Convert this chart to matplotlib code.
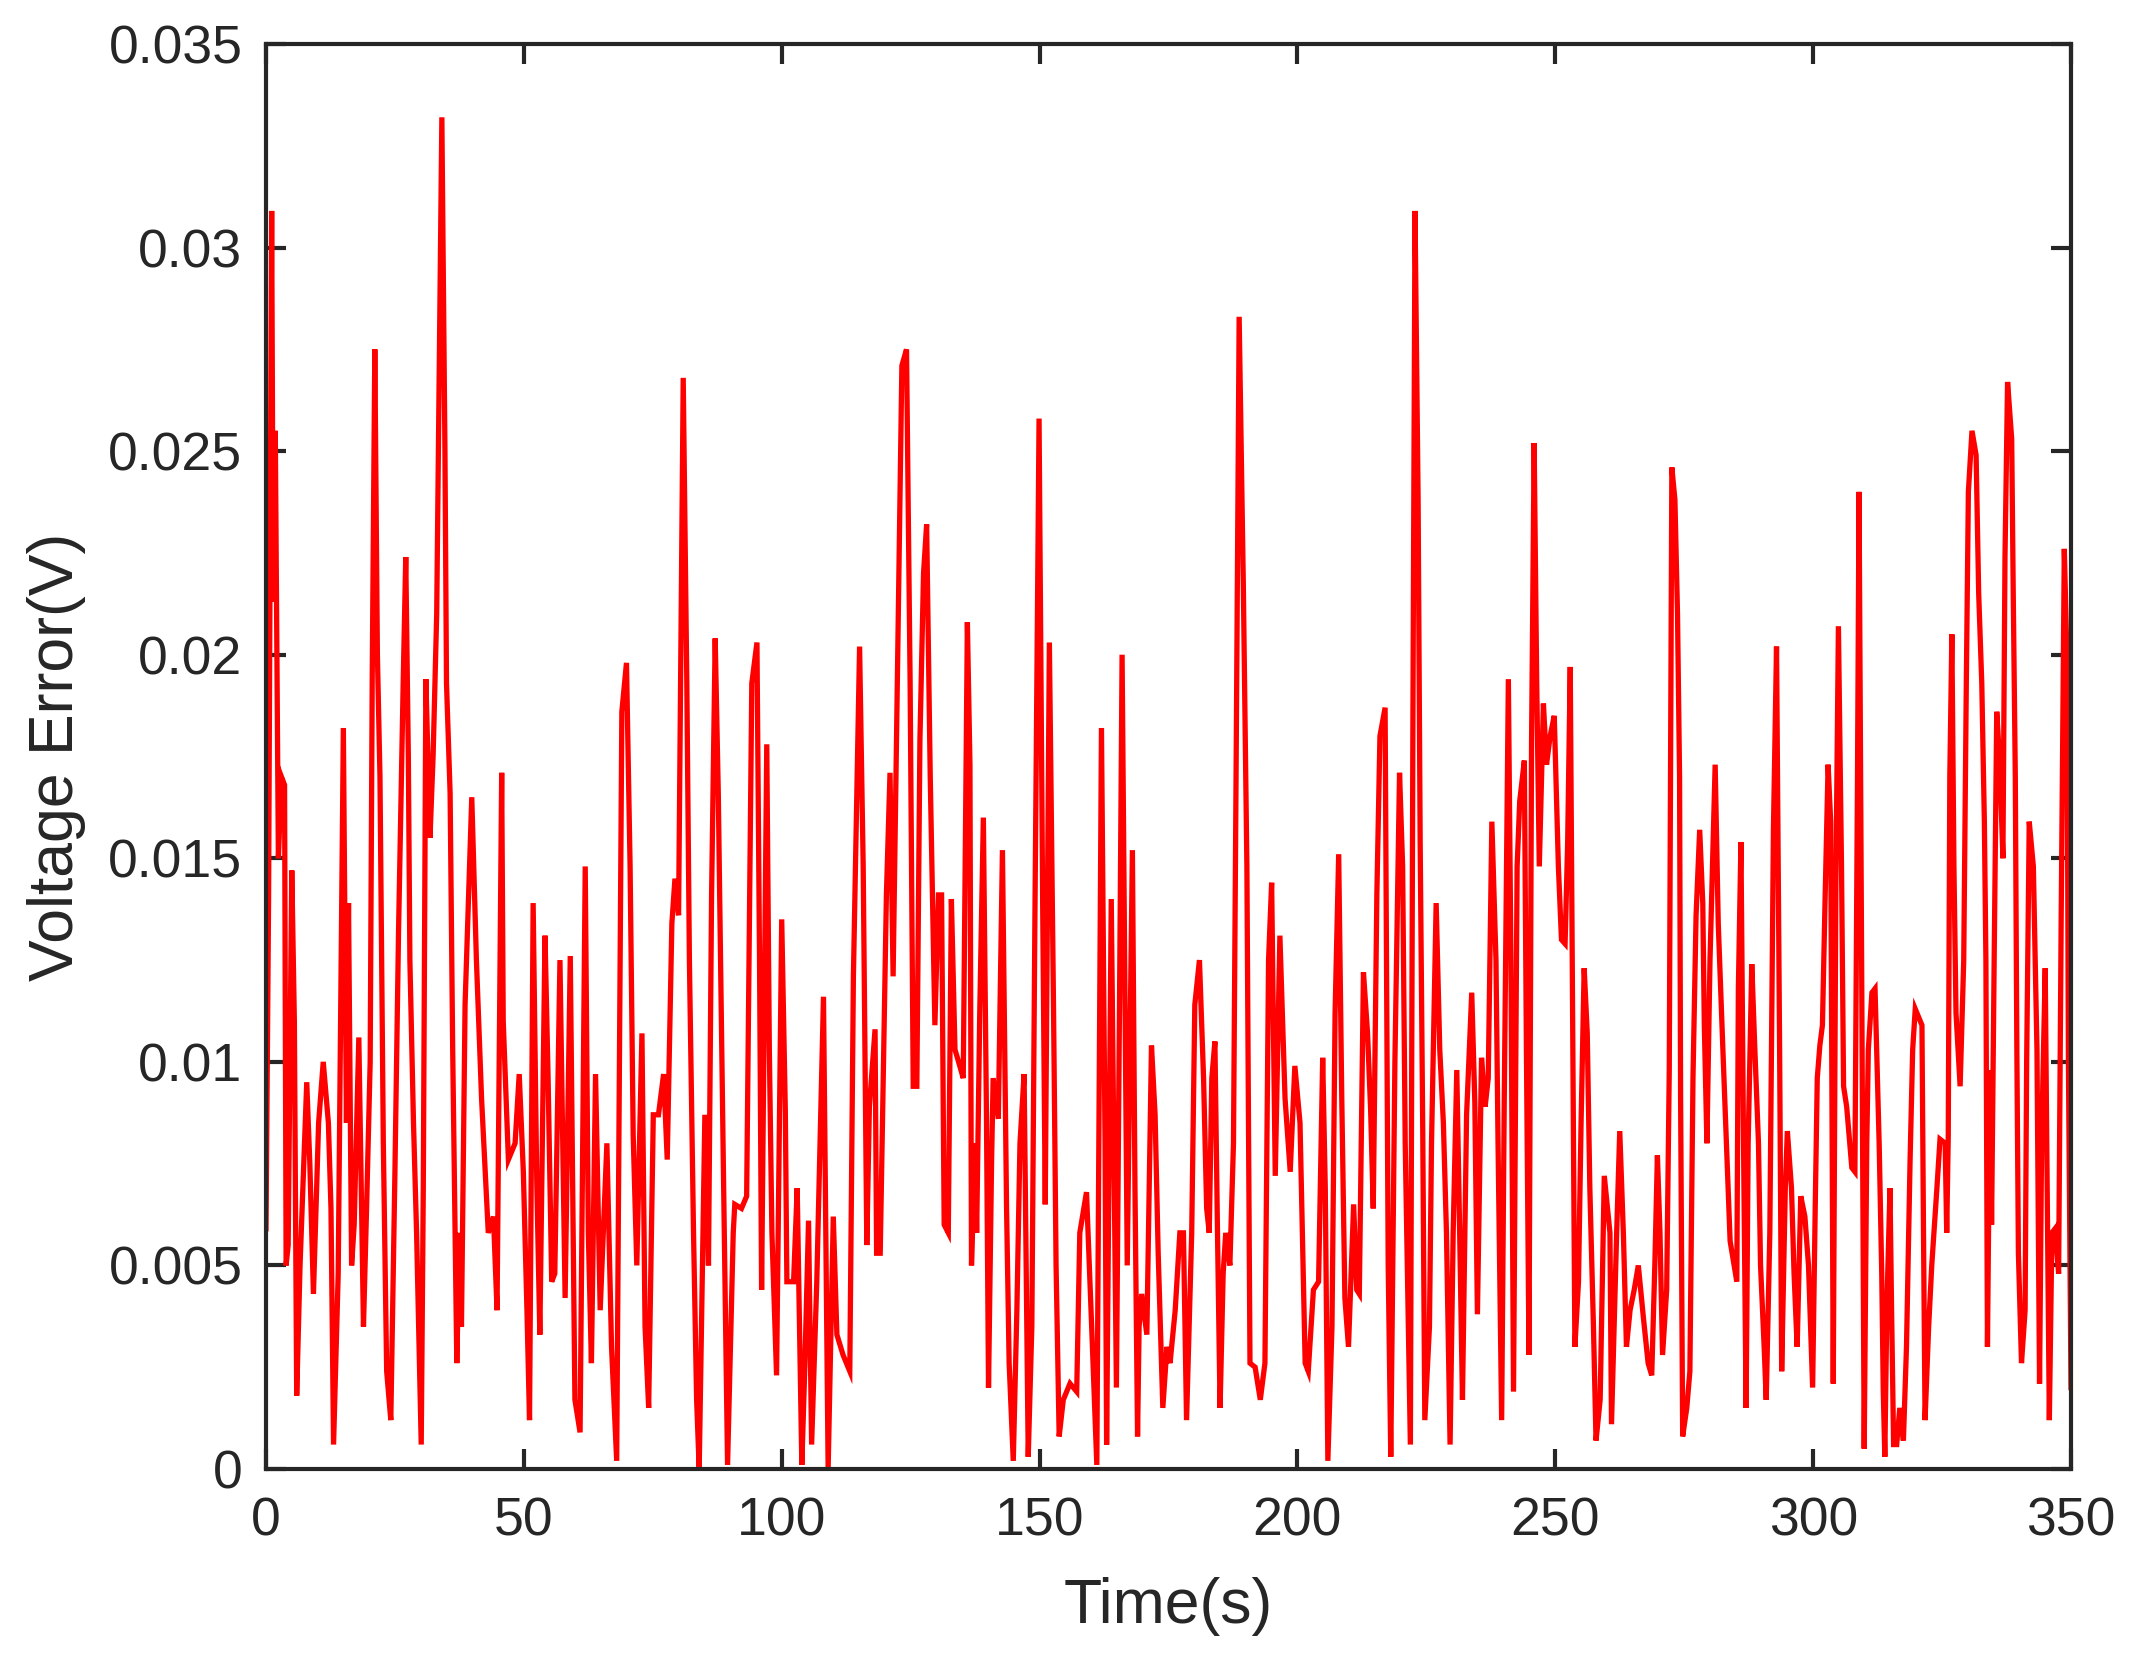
import matplotlib
matplotlib.use("Agg")
import matplotlib.pyplot as plt

# Time stamps (s) and voltage error (V)
time_s = [
    0.0, 0.5, 1.1, 1.4, 1.8, 2.4, 3.0, 3.6, 3.9, 4.3, 5.0, 5.5, 5.95, 6.6, 7.9, 8.5, 9.2, 10.2, 11.1, 12.1,
    12.6, 13.1, 14.0, 15.0, 15.6, 16.0, 16.6, 17.1, 18.0, 18.9, 19.5, 20.2, 20.6, 21.1, 21.6, 22.1, 22.75, 23.4, 24.2, 25.0,
    25.7, 26.6, 27.1, 27.6, 27.9, 28.6, 29.2, 30.1, 30.5, 31.0, 31.8, 32.4, 33.1, 34.1, 34.7, 35.0, 35.7, 36.2, 37.0, 37.5,
    37.9, 38.6, 39.9, 40.8, 41.8, 43.1, 44.1, 44.8,
    45.7, 46.0, 47.0, 48.3, 49.1, 49.9, 50.6, 51.1, 51.8, 52.5, 53.1, 54.1, 54.7, 55.4, 56.0, 57.0, 58.0, 59.0, 59.9, 60.9,
    61.9, 62.5, 63.1, 63.9, 64.8, 66.1, 67.0, 68.0, 69.0, 69.9, 70.6, 71.2, 71.9, 72.9, 73.5, 74.2, 75.1, 76.1, 77.1, 77.8,
    78.7, 79.3, 80.0, 80.9, 81.6, 82.1, 82.9, 83.5, 84.0, 85.1, 85.8, 86.4, 87.1, 87.7, 88.7, 89.5,
    90.6, 90.9, 92.2, 93.2, 94.2, 95.2, 95.7, 96.1, 97.1, 97.6, 98.1, 99.0, 100.0, 100.7, 101.0, 102.3, 103.0, 103.9, 104.5, 105.2,
    105.8, 106.8, 108.1, 109.0, 110.0, 110.7, 111.9, 113.2, 113.9, 115.1, 115.8, 116.5, 117.0, 118.1, 118.4, 119.1, 120.3, 121.0, 121.6, 123.3,
    124.2, 124.9, 125.5, 126.2, 126.8, 127.5, 128.1, 128.8, 129.7, 130.4, 131.0, 131.5, 132.3, 132.9, 133.6,
    134.3, 135.2, 136.0, 136.5, 136.8, 137.5, 137.8, 138.4, 139.1, 139.7, 140.1, 140.7, 141.0, 142.0, 142.8, 143.6, 144.1, 144.9, 145.6, 146.2,
    147.0, 147.8, 148.5, 149.1, 149.9, 150.6, 151.1, 151.9, 152.7, 153.2, 153.8, 154.6, 155.9, 157.2, 157.8, 159.1, 160.1, 161.1, 162.0, 162.7,
    163.0, 163.9, 164.5, 164.9, 165.5, 166.0, 166.5, 167.0, 168.0, 168.5, 169.0, 169.3, 169.8, 170.8, 171.7, 172.4, 173.0, 173.9, 174.7, 175.3,
    176.3, 177.2, 177.9, 178.5,
    179.5, 180.1, 181.0, 181.8, 182.4, 182.9, 183.4, 184.0, 184.5, 185.0, 185.6, 186.1, 186.9, 187.6, 188.1, 188.7, 189.5, 190.2, 190.8, 191.8,
    192.8, 193.7, 194.4, 195.0, 195.7, 196.6, 197.6, 198.6, 199.5, 200.5, 201.5, 202.1, 203.1, 204.1, 204.9, 205.4, 205.9, 206.7, 207.3, 208.0,
    208.6, 209.2, 209.9, 210.9, 211.5, 212.0, 212.8, 213.6, 214.2, 214.7, 215.4, 216.0, 217.0, 217.6, 218.1, 218.9, 219.8, 220.4, 220.9, 221.9,
    222.4, 222.8,
    223.4, 223.8, 224.3, 224.7, 225.6, 226.0, 226.9, 227.6, 228.3, 228.9, 229.6, 230.2, 230.9, 231.5, 232.0, 232.8, 233.8, 234.4, 234.9, 235.7,
    236.4, 237.0, 237.7, 238.5, 238.9, 239.6, 240.1, 240.9, 241.4, 241.9, 242.6, 243.1, 244.0, 244.4, 244.9, 245.4, 245.9, 246.4, 246.9, 247.7,
    248.3, 249.0, 249.8, 250.6, 251.2, 251.9, 252.4, 252.9, 253.4, 253.8, 254.5, 255.0, 255.6, 256.2, 256.7, 257.4, 257.9, 258.7, 259.5, 260.6,
    260.9, 261.9, 262.5, 263.2, 263.8, 264.5, 265.3, 266.1, 267.1, 268.0,
    268.7, 269.3, 269.8, 270.3, 270.8, 271.6, 272.1, 272.6, 273.2, 273.7, 274.1, 274.3, 274.7, 275.5, 276.1, 276.7, 277.3, 278.0, 278.6, 278.9,
    279.4, 280.0, 281.0, 281.6, 282.5, 283.4, 283.9, 285.2, 285.5, 286.0, 286.5, 287.0, 287.4, 288.1, 288.7, 289.4, 289.8, 290.5, 290.9, 291.6,
    292.3, 292.9, 293.5, 293.9, 294.6, 295.0, 295.8, 296.3, 296.9, 297.6, 298.4, 299.1, 299.9, 300.4, 300.8, 301.3, 301.8, 302.3, 302.9, 303.4,
    303.6, 303.9, 304.4, 304.9, 305.5, 305.9, 306.5, 307.5, 308.1, 308.6, 308.9, 309.4, 309.9,
    310.4, 310.7, 311.4, 312.0, 312.8, 313.3, 313.6, 313.9, 314.3, 314.9, 315.2, 315.6, 316.2, 316.8, 317.5, 318.1, 318.8, 319.3, 319.8, 321.1,
    321.4, 321.7, 322.4, 323.0, 324.0, 324.6, 325.6, 325.9, 326.2, 326.5, 326.9, 327.3, 327.7, 328.5, 329.2, 329.7, 330.1, 330.8, 331.6, 332.1,
    332.7, 333.2, 333.5, 333.8, 334.3, 334.6, 335.1, 335.6, 336.2, 336.8, 337.2, 337.7, 338.5, 338.8, 339.2, 339.5, 339.8, 340.4, 341.1, 341.4,
    341.9, 342.7, 343.4, 343.9, 344.3, 345.0, 345.3, 345.8, 346.3, 346.9, 347.6, 348.1, 348.7, 349.2, 349.5, 350.0,
]

voltage_error = [
    0.0059, 0.0140, 0.0309, 0.0213, 0.0255, 0.0150, 0.0170, 0.0168, 0.0050, 0.0055, 0.0147, 0.0110, 0.0018, 0.0050, 0.0095, 0.0075, 0.0043, 0.0085, 0.0100, 0.0085,
    0.0064, 0.0006, 0.0048, 0.0182, 0.0085, 0.0139, 0.0050, 0.0060, 0.0106, 0.0035, 0.0064, 0.0100, 0.0195, 0.0275, 0.0200, 0.0170, 0.0080, 0.0024, 0.0012, 0.0073,
    0.0132, 0.0193, 0.0224, 0.0175, 0.0125, 0.0085, 0.0058, 0.0006, 0.0069, 0.0194, 0.0155, 0.0175, 0.0210, 0.0332, 0.0250, 0.0193, 0.0166, 0.0103, 0.0026, 0.0058,
    0.0035, 0.0114, 0.0165, 0.0125, 0.0091, 0.0058, 0.0062, 0.0039,
    0.0171, 0.0110, 0.0076, 0.0080, 0.0097, 0.0073, 0.0039, 0.0012, 0.0139, 0.0071, 0.0033, 0.0131, 0.0096, 0.0046, 0.0048, 0.0125, 0.0042, 0.0126, 0.0017, 0.0009,
    0.0148, 0.0058, 0.0026, 0.0097, 0.0039, 0.0080, 0.0030, 0.0002, 0.0186, 0.0198, 0.0148, 0.0082, 0.0050, 0.0107, 0.0035, 0.0015, 0.0087, 0.0087, 0.0097, 0.0076,
    0.0134, 0.0145, 0.0136, 0.0268, 0.0193, 0.0125, 0.0058, 0.0017, 0.0000, 0.0087, 0.0050, 0.0141, 0.0204, 0.0166, 0.0073, 0.0001,
    0.0058, 0.0065, 0.0064, 0.0067, 0.0193, 0.0203, 0.0125, 0.0044, 0.0178, 0.0103, 0.0058, 0.0023, 0.0135, 0.0088, 0.0046, 0.0046, 0.0069, 0.0001, 0.0026, 0.0061,
    0.0006, 0.0046, 0.0116, 0.0000, 0.0062, 0.0033, 0.0028, 0.0024, 0.0121, 0.0202, 0.0148, 0.0055, 0.0089, 0.0108, 0.0053, 0.0053, 0.0141, 0.0171, 0.0121, 0.0271,
    0.0275, 0.0193, 0.0094, 0.0094, 0.0179, 0.0220, 0.0232, 0.0170, 0.0109, 0.0141, 0.0141, 0.0060, 0.0058, 0.0140, 0.0103,
    0.0100, 0.0096, 0.0208, 0.0173, 0.0050, 0.0080, 0.0058, 0.0112, 0.0160, 0.0087, 0.0020, 0.0076, 0.0096, 0.0086, 0.0152, 0.0064, 0.0026, 0.0002, 0.0039, 0.0080,
    0.0097, 0.0003, 0.0035, 0.0136, 0.0258, 0.0139, 0.0065, 0.0203, 0.0114, 0.0050, 0.0008, 0.0017, 0.0021, 0.0019, 0.0058, 0.0068, 0.0035, 0.0001, 0.0182, 0.0080,
    0.0006, 0.0140, 0.0069, 0.0020, 0.0114, 0.0200, 0.0125, 0.0050, 0.0152, 0.0069, 0.0008, 0.0035, 0.0043, 0.0033, 0.0104, 0.0087, 0.0053, 0.0015, 0.0030, 0.0026,
    0.0039, 0.0058, 0.0058, 0.0012,
    0.0058, 0.0114, 0.0125, 0.0096, 0.0064, 0.0058, 0.0096, 0.0105, 0.0058, 0.0015, 0.0048, 0.0058, 0.0050, 0.0080, 0.0170, 0.0283, 0.0218, 0.0148, 0.0026, 0.0025,
    0.0017, 0.0026, 0.0125, 0.0144, 0.0072, 0.0131, 0.0091, 0.0073, 0.0099, 0.0085, 0.0026, 0.0024, 0.0044, 0.0046, 0.0101, 0.0069, 0.0002, 0.0035, 0.0112, 0.0151,
    0.0091, 0.0042, 0.0030, 0.0065, 0.0044, 0.0043, 0.0122, 0.0107, 0.0088, 0.0064, 0.0141, 0.0180, 0.0187, 0.0050, 0.0003, 0.0100, 0.0171, 0.0148, 0.0080, 0.0006,
    0.0186, 0.0309,
    0.0238, 0.0154, 0.0083, 0.0012, 0.0035, 0.0080, 0.0139, 0.0103, 0.0085, 0.0058, 0.0006, 0.0058, 0.0098, 0.0055, 0.0017, 0.0087, 0.0117, 0.0090, 0.0038, 0.0101,
    0.0089, 0.0096, 0.0159, 0.0125, 0.0080, 0.0012, 0.0090, 0.0194, 0.0125, 0.0019, 0.0148, 0.0164, 0.0174, 0.0103, 0.0028, 0.0179, 0.0252, 0.0193, 0.0148, 0.0188,
    0.0173, 0.0180, 0.0185, 0.0148, 0.0130, 0.0129, 0.0154, 0.0197, 0.0103, 0.0030, 0.0046, 0.0085, 0.0123, 0.0107, 0.0069, 0.0035, 0.0007, 0.0017, 0.0072, 0.0058,
    0.0011, 0.0058, 0.0083, 0.0058, 0.0030, 0.0039, 0.0044, 0.0050, 0.0037, 0.0026,
    0.0023, 0.0050, 0.0077, 0.0058, 0.0028, 0.0044, 0.0098, 0.0246, 0.0238, 0.0210, 0.0170, 0.0091, 0.0008, 0.0015, 0.0024, 0.0096, 0.0136, 0.0157, 0.0139, 0.0109,
    0.0080, 0.0125, 0.0173, 0.0134, 0.0103, 0.0073, 0.0056, 0.0046, 0.0118, 0.0154, 0.0080, 0.0015, 0.0080, 0.0124, 0.0103, 0.0080, 0.0050, 0.0030, 0.0017, 0.0058,
    0.0157, 0.0202, 0.0103, 0.0024, 0.0069, 0.0083, 0.0069, 0.0048, 0.0030, 0.0067, 0.0062, 0.0050, 0.0020, 0.0064, 0.0096, 0.0104, 0.0109, 0.0139, 0.0173, 0.0159,
    0.0103, 0.0021, 0.0143, 0.0207, 0.0148, 0.0094, 0.0089, 0.0074, 0.0073, 0.0170, 0.0240, 0.0125, 0.0005,
    0.0080, 0.0103, 0.0117, 0.0118, 0.0080, 0.0048, 0.0019, 0.0003, 0.0040, 0.0069, 0.0040, 0.0006, 0.0006, 0.0015, 0.0007, 0.0030, 0.0076, 0.0103, 0.0113, 0.0109,
    0.0058, 0.0012, 0.0035, 0.0050, 0.0069, 0.0081, 0.0080, 0.0058, 0.0082, 0.0170, 0.0205, 0.0148, 0.0112, 0.0094, 0.0125, 0.0193, 0.0240, 0.0255, 0.0249, 0.0215,
    0.0193, 0.0159, 0.0125, 0.0030, 0.0098, 0.0060, 0.0125, 0.0186, 0.0173, 0.0150, 0.0224, 0.0267, 0.0253, 0.0215, 0.0170, 0.0103, 0.0053, 0.0026, 0.0039, 0.0100,
    0.0159, 0.0148, 0.0103, 0.0021, 0.0080, 0.0123, 0.0080, 0.0012, 0.0058, 0.0059, 0.0048, 0.0136, 0.0226, 0.0200, 0.0100, 0.0020,
]

x_ticks = [0, 50, 100, 150, 200, 250, 300, 350]
y_ticks = [0, 0.005, 0.01, 0.015, 0.02, 0.025, 0.03, 0.035]
y_tick_labels = ["0", "0.005", "0.01", "0.015", "0.02", "0.025", "0.03", "0.035"]

AX_COLOR = "#262626"
plt.rcParams["font.family"] = ["Liberation Sans", "DejaVu Sans"]

fig = plt.figure(figsize=(21.39, 16.66), dpi=100)
ax = fig.add_axes([266 / 2139, 1 - 1469 / 1666, 1805 / 2139, 1425 / 1666])

ax.plot(time_s, voltage_error, color="#FF0000", linewidth=3.8, solid_joinstyle="miter")

ax.set_xlim(0, 350)
ax.set_ylim(0, 0.035)
ax.set_xticks(x_ticks)
ax.set_xticklabels([str(v) for v in x_ticks])
ax.set_yticks(y_ticks)
ax.set_yticklabels(y_tick_labels)

for s in ax.spines.values():
    s.set_color(AX_COLOR)
    s.set_linewidth(3.0)

ax.tick_params(axis="both", which="both", direction="in", length=14.4, width=3.0,
               color=AX_COLOR, labelcolor=AX_COLOR, labelsize=38.5,
               top=True, right=True)
ax.tick_params(axis="x", pad=20)
ax.tick_params(axis="y", pad=17)

ax.set_xlabel("Time(s)", fontsize=45, color=AX_COLOR, labelpad=22)
ax.set_ylabel("Voltage Error(V)", fontsize=45, color=AX_COLOR, labelpad=16)

fig.savefig("out.png", dpi=100, facecolor="white")
